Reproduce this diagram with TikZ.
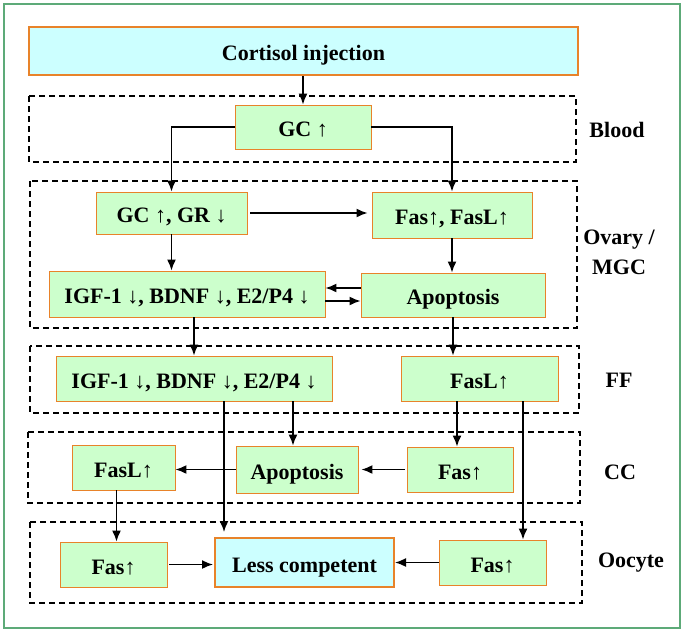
\documentclass[tikz,border=0pt]{standalone}
\usepackage{fontspec}
\setmainfont{Liberation Serif}
\usetikzlibrary{arrows.meta}
\definecolor{boxgreen}{HTML}{CCFFCC}
\definecolor{boxcyan}{HTML}{CCFFFF}
\definecolor{boxorange}{HTML}{E8832A}
\definecolor{framegreen}{HTML}{5DAA78}
\begin{document}
\begin{tikzpicture}[x=1pt,y=-1pt,
  box/.style={draw=boxorange, line width=0.9pt, fill=boxgreen, inner sep=0pt, text height=19pt, text depth=0pt, font=\fontsize{22}{24}\selectfont\bfseries},
  cbox/.style={box, fill=boxcyan, line width=1.5pt},
  region/.style={draw=black, dash pattern=on 6pt off 4pt, line width=1.4pt},
  lbl/.style={font=\fontsize{22}{30}\selectfont\bfseries, align=center},
  arr/.style={line width=1.6pt, -{Latex[length=11pt,width=9pt]}}
]
\useasboundingbox (0,0) rectangle (685,633);
\fill[white] (0,0) rectangle (685,633);
\draw[framegreen, line width=2pt] (4,4) rectangle (680,628);

% dashed regions
\draw[region] (29,96) rectangle (576,162);
\draw[region] (30,181) rectangle (577,328);
\draw[region] (30,346) rectangle (579,413);
\draw[region] (28,432) rectangle (580,503);
\draw[region] (30,522) rectangle (582,603);

% nodes
\node[cbox, minimum width=549pt, minimum height=48pt] (cort) at (303.5,51) {Cortisol injection};
\node[box, minimum width=136pt, minimum height=44pt] (gc) at (303,127) {GC ↑};
\node[box, minimum width=151pt, minimum height=42pt] (gcgr) at (171.5,213) {GC ↑, GR ↓};
\node[box, minimum width=160pt, minimum height=46pt] (fas1) at (452,215) {Fas↑, FasL↑};
\node[box, minimum width=276pt, minimum height=46pt] (igf1) at (187,294) {IGF-1 ↓, BDNF ↓, E2/P4 ↓};
\node[box, minimum width=184pt, minimum height=44pt] (apo1) at (453,295) {Apoptosis};
\node[box, minimum width=276pt, minimum height=45pt] (igf2) at (194,378.5) {IGF-1 ↓, BDNF ↓, E2/P4 ↓};
\node[box, minimum width=157pt, minimum height=45pt] (fasl2) at (479.5,378.5) {FasL↑};
\node[box, minimum width=103pt, minimum height=45pt] (fasl3) at (123.5,467.5) {FasL↑};
\node[box, minimum width=122pt, minimum height=47pt] (apo3) at (297,469.5) {Apoptosis};
\node[box, minimum width=106pt, minimum height=45pt] (fas3) at (460,469.5) {Fas↑};
\node[box, minimum width=107pt, minimum height=45pt] (fas4) at (113.5,564.5) {Fas↑};
\node[cbox, line width=2pt, minimum width=179pt, minimum height=49pt] (less) at (304.5,562.5) {Less competent};
\node[box, minimum width=107pt, minimum height=45pt] (fas5) at (492.5,562.5) {Fas↑};

% labels
\node[lbl] (lblood) at (617,130) {Blood};
\node[lbl] (lovary) at (619,252) {Ovary /\\MGC};
\node[lbl] (lff) at (619,380) {FF};
\node[lbl] (lcc) at (620,472) {CC};
\node[lbl] (loocyte) at (631,563) {Oocyte};

% connectors
\draw[arr] (cort.south -| gc.north) -- (gc.north);
\draw[arr] (gc.west) -| (gcgr.north);
\draw[arr] (gc.east) -| (fas1.north);
\draw[arr, shorten <=3pt, shorten >=4pt] (gcgr.east) -- (gcgr.east -| fas1.west);
\draw[arr] (gcgr.south) -- (gcgr.south |- igf1.north);
\draw[arr] (fas1.south) -- (fas1.south |- apo1.north);
\draw[arr] ([yshift=7pt]apo1.west) -- ([yshift=7pt]apo1.west -| igf1.east);
\draw[arr] ([yshift=-7pt]igf1.east) -- ([yshift=-7pt]igf1.east -| apo1.west);
\draw[arr] (igf1.south -| igf2.north) -- (igf2.north);
\draw[arr] (apo1.south) -- (apo1.south |- fasl2.north);
\draw[arr, shorten >=5pt] ([xshift=30pt]igf2.south) -- ([xshift=30pt]igf2.south |- less.north);
\draw[arr] ([xshift=-4pt]igf2.south -| apo3.north) -- ([xshift=-4pt]apo3.north);
\draw[arr] ([xshift=-3pt]fasl2.south -| fas3.north) -- ([xshift=-3pt]fas3.north);
\draw[arr] ([xshift=43.5pt]fasl2.south) -- ([xshift=43.5pt]fasl2.south |- fas5.north);
\draw[arr] (apo3.west) -- (apo3.west -| fasl3.east);
\draw[arr, shorten <=2pt, shorten >=3pt] (fas3.west) -- (fas3.west -| apo3.east);
\draw[arr] ([xshift=-7pt]fasl3.south) -- ([xshift=-7pt]fasl3.south |- fas4.north);
\draw[arr, shorten <=2pt, shorten >=1pt] (fas4.east) -- (fas4.east -| less.west);
\draw[arr] (fas5.west) -- (fas5.west -| less.east);
\end{tikzpicture}
\end{document}
